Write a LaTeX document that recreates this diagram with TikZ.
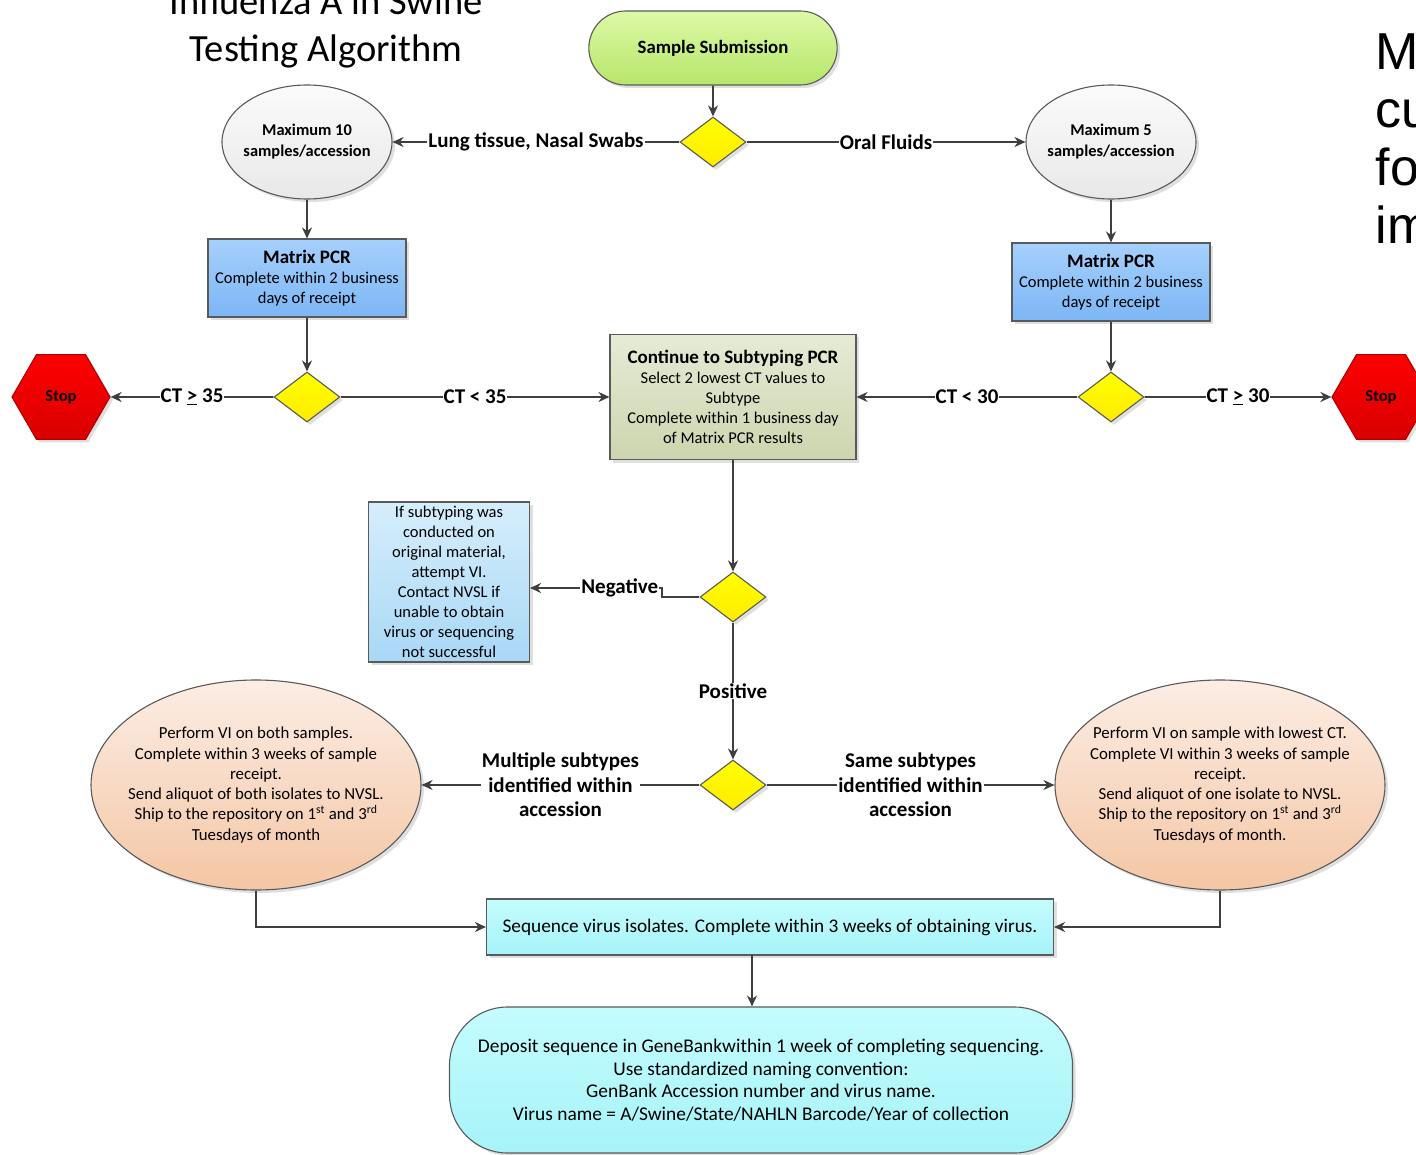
\documentclass[tikz,border=0pt]{standalone}
\usepackage{fontspec}
\setmainfont{Carlito}
\newfontfamily\sidefont{Liberation Sans}
\usetikzlibrary{shapes.geometric,shapes.misc,shadows,arrows.meta}

\definecolor{linegray}{HTML}{3F3F3F}
\definecolor{edgegray}{HTML}{5A5A5A}
\definecolor{greentop}{HTML}{DDF9A6}
\definecolor{greenbot}{HTML}{B6E66A}
\definecolor{bluetop}{HTML}{A6D0FC}
\definecolor{bluebot}{HTML}{7CB6F5}
\definecolor{olivetop}{HTML}{E6EBD6}
\definecolor{olivebot}{HTML}{CCD5AE}
\definecolor{notetop}{HTML}{D6EEFC}
\definecolor{notebot}{HTML}{A8D8F6}
\definecolor{peachtop}{HTML}{FCEDE4}
\definecolor{peachbot}{HTML}{F4C6A4}
\definecolor{cyantop}{HTML}{C4FCFE}
\definecolor{cyanbot}{HTML}{A6F3F8}

\begin{document}
\begin{tikzpicture}[x=1pt,y=-1pt,
            every node/.style={align=center,text=black,font=\fontsize{16.5}{20}\selectfont},
            shade/.style={draw=edgegray,line width=1.1pt,drop shadow={shadow xshift=3pt,shadow yshift=-3pt,opacity=.25}},
            start/.style={shade,rounded rectangle,minimum width=255pt,minimum height=74pt,
                top color=greentop,bottom color=greenbot,font=\bfseries\fontsize{18.8}{22}\selectfont},
            decide/.style={shade,diamond,minimum width=66pt,minimum height=50pt,inner sep=0pt,
                top color=yellow,bottom color=yellow!85!orange},
            oval/.style={shade,ellipse,inner sep=0pt,inner xsep=-7pt,minimum width=170pt,minimum height=114pt,
                top color=gray!3,bottom color=gray!18,font=\bfseries\fontsize{16.4}{21}\selectfont},
            pcr/.style={shade,rectangle,minimum width=198pt,minimum height=78pt,inner sep=1pt,
                top color=bluetop,bottom color=bluebot},
            cont/.style={shade,rectangle,minimum width=246pt,minimum height=125pt,inner sep=1pt,
                top color=olivetop,bottom color=olivebot},
            note/.style={shade,rectangle,minimum width=161pt,minimum height=160pt,inner sep=1pt,
                top color=notetop,bottom color=notebot},
            stopsign/.style={shade,draw=red!70!black,regular polygon,regular polygon sides=6,minimum size=98pt,
                inner sep=0pt,top color=red,bottom color=red!85!black,font=\bfseries\fontsize{16.5}{18}\selectfont},
            vi/.style={shade,ellipse,inner sep=0pt,inner xsep=-16pt,minimum width=330pt,minimum height=210pt,
                top color=peachtop,bottom color=peachbot,font=\fontsize{16.8}{20.3}\selectfont},
            seqbox/.style={shade,rectangle,minimum width=567pt,minimum height=56pt,
                top color=cyantop,bottom color=cyanbot,font=\fontsize{19.3}{22}\selectfont},
            deposit/.style={shade,rectangle,rounded corners=58pt,inner xsep=0pt,
                minimum width=623pt,minimum height=146pt,
                top color=cyantop,bottom color=cyanbot,font=\fontsize{19.4}{22.5}\selectfont},
            head/.style={font=\fontsize{38.5}{46}\selectfont},
            sidetext/.style={font=\sidefont\fontsize{52}{58}\selectfont},
            lbl/.style={fill=white,inner sep=1pt,font=\bfseries\fontsize{21}{24.5}\selectfont},
            flow/.style={draw=linegray,line width=1.8pt,-{Stealth[length=11pt,width=10pt]}},
            ]

            \path[use as bounding box,fill=white] (0,0) rectangle (1416,1155);

            % headings
            \node[head,anchor=base] (title1) at (326,15) {Influenza A in Swine};
            \node[head,anchor=base] (title2) at (326,62) {Testing Algorithm};
            \foreach \t [count=\i] in {Ma,cu,fo,im}
                \node[sidetext,anchor=base west] (side\i) at (1372,12+58*\i) {\t};

            % top part
            \node[start] (sub) at (713,48) {Sample Submission};
            \node[decide] (d1) at (713,142) {};
            \node[oval] (maxl) at (307,142) {Maximum 10\\samples/accession};
            \node[oval] (maxr) at (1111,142) {Maximum 5\\samples/accession};
            \node[pcr] (pcrl) at (307,278) {{\bfseries\fontsize{19}{22}\selectfont Matrix PCR}\\Complete within 2 business\\days of receipt};
            \node[pcr] (pcrr) at (1111,282) {{\bfseries\fontsize{19}{22}\selectfont Matrix PCR}\\Complete within 2 business\\days of receipt};

            % CT decisions
            \node[decide] (d2) at (307,397) {};
            \node[decide] (d3) at (1111,397) {};
            \node[stopsign] (stopl) at (61,397) {Stop};
            \node[stopsign] (stopr) at (1381,397) {Stop};
            \node[cont] (cont) at (733,397) {{\bfseries\fontsize{19}{22}\selectfont Continue to Subtyping PCR}\\Select 2 lowest CT values to\\Subtype\\Complete within 1 business day\\of Matrix PCR results};

            % subtyping
            \node[decide] (d4) at (733,597) {};
            \node[note] (note) at (449,582) {If subtyping was\\conducted on\\original material,\\attempt VI.\\Contact NVSL if\\unable to obtain\\virus or sequencing\\not successful};
            \node[decide] (d5) at (733,785) {};
            \node[vi] (vil) at (256,785) {Perform VI on both samples.\\Complete within 3 weeks of sample\\receipt.\\Send aliquot of both isolates to NVSL.\\Ship to the repository on 1\textsuperscript{st} and 3\textsuperscript{rd}\\Tuesdays of month};
            \node[vi] (vir) at (1220,785) {Perform VI on sample with lowest CT.\\Complete VI within 3 weeks of sample\\receipt.\\Send aliquot of one isolate to NVSL.\\Ship to the repository on 1\textsuperscript{st} and 3\textsuperscript{rd}\\Tuesdays of month.};

            % sequencing
            \node[seqbox] (seq) at (770,927) {Sequence virus isolates. Complete within 3 weeks of obtaining virus.};
            \node[deposit] (dep) at (761,1080) {Deposit sequence in GeneBankwithin 1 week of completing sequencing.\\Use standardized naming convention:\\GenBank Accession number and virus name.\\Virus name = A/Swine/State/NAHLN Barcode/Year of collection};

            \coordinate (negk) at (662,588);
            \coordinate (seqout) at (752,955);

            \draw[flow] (sub) -- (d1);
            \draw[flow] (d1) -- node[lbl] {Lung tissue, Nasal Swabs} (maxl);
            \draw[flow] (d1) -- node[lbl] {Oral Fluids} (maxr);
            \draw[flow] (maxl) -- (pcrl);
            \draw[flow] (maxr) -- (pcrr);
            \draw[flow] (pcrl) -- (d2);
            \draw[flow] (pcrr) -- (d3);
            \draw[flow] (d2) -- node[lbl] {CT \underline{>} 35} (stopl);
            \draw[flow] (d2) -- node[lbl] {CT < 35} (cont);
            \draw[flow] (d3) -- node[lbl] {CT < 30} (cont);
            \draw[flow] (d3) -- node[lbl] {CT \underline{>} 30} (stopr);
            \draw[flow] (cont) -- (d4);
            \draw[flow] (d4.west) -| (negk) -- node[lbl,pos=.32] {Negative} (note.east |- negk);
            \draw[flow] (d4) -- node[lbl] {Positive} (d5);
            \draw[flow] (d5) -- node[lbl] {Multiple subtypes\\identified within\\accession} (vil);
            \draw[flow] (d5) -- node[lbl] {Same subtypes\\identified within\\accession} (vir);
            \draw[flow] (vil.south) |- (seq.west);
            \draw[flow] (vir.south) |- (seq.east);
            \draw[flow] (seqout) -- (seqout |- dep.north);
\end{tikzpicture}
\end{document}
